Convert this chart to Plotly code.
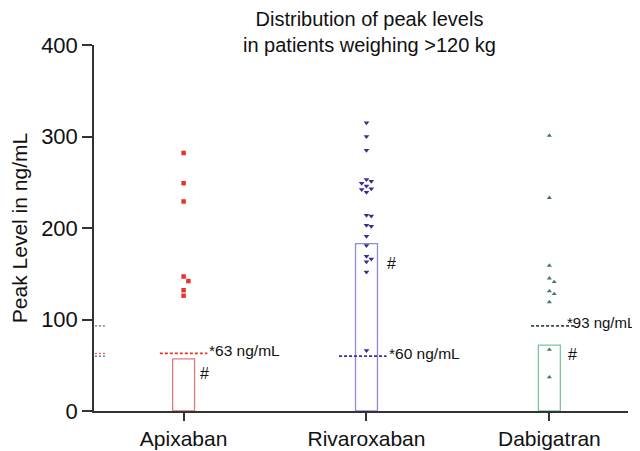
import plotly.graph_objects as go

# ---- data ----
drugs = ["Apixaban", "Rivaroxaban", "Dabigatran"]
apixaban = [282, 249, 229, 147, 142, 132, 126]
rivaroxaban = [315, 300, 285, 253, 251, 249, 246, 243, 242, 239, 214, 213, 203, 202,
               191, 181, 169, 166, 163, 152, 66]
dabigatran = [301, 233, 159, 145, 141, 131, 128, 119, 67, 37]
box_values = [57, 183, 72]          # open boxes
threshold_values = [63, 60, 93]     # dashed reference levels
threshold_labels = ["*63 ng/mL", "*60 ng/mL", "*93 ng/mL"]
y_ticks = [0, 100, 200, 300, 400]

series = [apixaban, rivaroxaban, dabigatran]
point_colors = ["#e8322c", "#3b2f8c", "#3f7a5c"]
box_colors = ["#e07a7a", "#8a8ae0", "#7cc79a"]
line_colors = ["#e8322c", "#3b2f8c", "#2f4f3f"]
line_dash = ["3px,2px", "3px,2px", "3px,2px"]
symbols = ["square", "triangle-down", "triangle-up"]
sizes = [4.5, 5, 4.5]

PX_PER_X = 183.0
PX_PER_Y = 366.0 / 400.0


def swarm(vals, d=4.8, step=4.8):
    placed = []
    offs = []
    for v in vals:
        y = v * PX_PER_Y
        for k in [0, 1, -1, 2, -2, 3, -3]:
            x = k * step
            if all(((x - px) ** 2 + (y - py) ** 2) >= d * d for px, py in placed):
                break
        placed.append((x, y))
        offs.append(x / PX_PER_X)
    return offs


fig = go.Figure()

for i, b in enumerate(box_values):
    fig.add_trace(go.Bar(x=[i], y=[b], width=0.12,
                         marker=dict(color="rgba(0,0,0,0)",
                                     line=dict(color=box_colors[i], width=1.3)),
                         showlegend=False, hoverinfo="skip"))

for i, vals in enumerate(series):
    offs = swarm(vals)
    fig.add_trace(go.Scatter(x=[i + o for o in offs], y=vals, mode="markers",
                             marker=dict(symbol=symbols[i], size=sizes[i],
                                         color=point_colors[i], line=dict(width=0)),
                             showlegend=False, name=drugs[i]))

shapes = []
annotations = []
line_x0 = [-0.13, -0.15, -0.10]
line_x1 = [0.13, 0.11, 0.14]
label_dx = [0.13, 0.11, 0.088]
label_size = [15.5, 15.5, 15]
hash_dx = [0.08, 0.10, 0.09]
hash_dy = [-15, -20, -9]
for i, t in enumerate(threshold_values):
    shapes.append(dict(type="line", xref="x", yref="y", x0=i + line_x0[i], x1=i + line_x1[i],
                       y0=t, y1=t, line=dict(color=line_colors[i], width=1.6, dash=line_dash[i])))
    shapes.append(dict(type="line", xref="x", yref="y", x0=-0.485, x1=-0.42,
                       y0=t, y1=t, line=dict(color=line_colors[i], width=1, dash="2px,2px")))
    annotations.append(dict(x=i + label_dx[i], y=t, xref="x", yref="y", text=threshold_labels[i],
                            showarrow=False, xanchor="left", yanchor="middle",
                            yshift=3, font=dict(size=label_size[i], color="#111")))
    annotations.append(dict(x=i + hash_dx[i], y=box_values[i], xref="x", yref="y",
                            text="#", showarrow=False, xanchor="left", yanchor="middle",
                            yshift=hash_dy[i], font=dict(size=16, color="#111")))

annotations.append(dict(x=0.516, y=1.035, xref="paper", yref="paper",
                        text="Distribution of peak levels<br>in patients weighing >120 kg",
                        showarrow=False, xanchor="center", yanchor="middle",
                        font=dict(size=20, color="#111")))

# page body has an 8px default margin; size the figure to fit the 640x451 window
fig.update_layout(
    width=632, height=443,
    margin=dict(l=86, r=12, t=37, b=40),
    paper_bgcolor="white", plot_bgcolor="white",
    font=dict(family="Liberation Sans, Arial, sans-serif", color="#111"),
    shapes=shapes, annotations=annotations,
    barmode="overlay",
    xaxis=dict(range=[-0.49, 2.43], tickvals=[0, 1, 2], ticktext=drugs,
               showline=True, linecolor="#333", linewidth=1.5,
               ticks="outside", ticklen=8, tickwidth=1.5, tickcolor="#333",
               showgrid=False, zeroline=False, tickfont=dict(size=21), automargin=False),
    yaxis=dict(range=[0, 400], tickvals=y_ticks,
               showline=True, linecolor="#333", linewidth=1.5,
               ticks="outside", ticklen=10, tickwidth=1.5, tickcolor="#333",
               showgrid=False, zeroline=False, tickfont=dict(size=22), automargin=False,
               title=dict(text="Peak Level in ng/mL", font=dict(size=21), standoff=12)),
)

fig.write_html("out.html")
